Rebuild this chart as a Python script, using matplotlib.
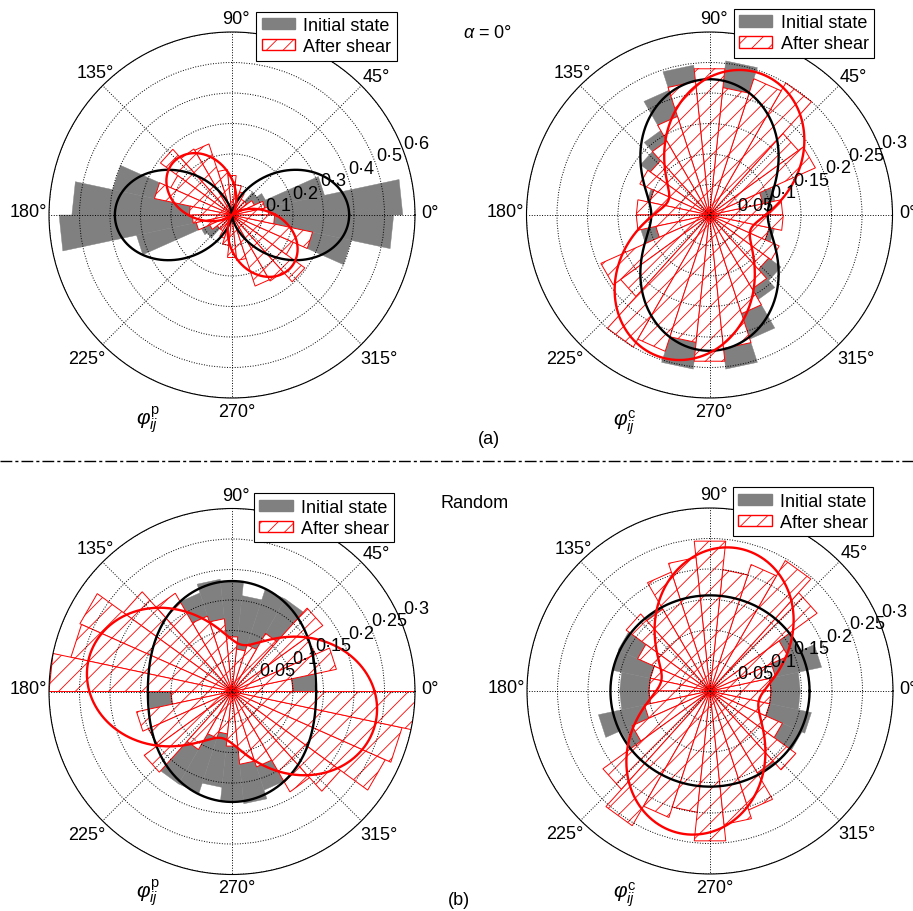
import numpy as np
import matplotlib
matplotlib.use("Agg")
import matplotlib.pyplot as plt
from matplotlib.lines import Line2D
from matplotlib.patches import Patch

plt.rcParams["font.family"] = ["Liberation Sans", "DejaVu Sans"]
plt.rcParams["mathtext.fontset"] = "custom"
plt.rcParams["mathtext.rm"] = "Liberation Sans"
plt.rcParams["mathtext.it"] = "Liberation Sans:italic"
plt.rcParams["hatch.linewidth"] = 0.6

# 30 bins of 12 degrees, starting at 0 deg
BIN_DEG = 12

# (a) alpha = 0, particle orientation phi_ij^p
init_p_a = [0.56, 0.31, 0.12, 0.10, 0.05, 0.03, 0.02, 0.02, 0.02, 0.03, 0.05, 0.08, 0.12, 0.40, 0.525,
            0.567, 0.32, 0.11, 0.10, 0.05, 0.03, 0.02, 0.02, 0.02, 0.03, 0.05, 0.08, 0.12, 0.40, 0.53]
shear_p_a = [0.12, 0.11, 0.08, 0.06, 0.06, 0.08, 0.10, 0.13, 0.15, 0.245, 0.25, 0.29, 0.22, 0.26, 0.14,
             0.13, 0.12, 0.08, 0.06, 0.06, 0.08, 0.10, 0.14, 0.15, 0.245, 0.25, 0.295, 0.22, 0.27, 0.14]
# (a) alpha = 0, contact normals phi_ij^c
init_c_a = [0.115, 0.11, 0.12, 0.15, 0.17, 0.20, 0.254, 0.21, 0.247, 0.215, 0.16, 0.14, 0.10, 0.105, 0.115,
            0.12, 0.115, 0.12, 0.15, 0.17, 0.20, 0.254, 0.21, 0.254, 0.214, 0.16, 0.145, 0.10, 0.109, 0.115]
shear_c_a = [0.12, 0.09, 0.19, 0.18, 0.25, 0.235, 0.21, 0.241, 0.22, 0.17, 0.14, 0.12, 0.125, 0.10, 0.12,
             0.12, 0.09, 0.195, 0.18, 0.25, 0.235, 0.21, 0.241, 0.22, 0.17, 0.14, 0.12, 0.125, 0.10, 0.121]
# (b) random, particle orientation
init_p_b = [0.137, 0.15, 0.15, 0.16, 0.175, 0.175, 0.158, 0.182, 0.185, 0.17, 0.17, 0.176, 0.16, 0.15, 0.14,
            0.137, 0.15, 0.15, 0.16, 0.175, 0.175, 0.158, 0.18, 0.185, 0.17, 0.17, 0.185, 0.16, 0.15, 0.14]
shear_p_b = [0.10, 0.175, 0.15, 0.184, 0.11, 0.08, 0.07, 0.09, 0.12, 0.13, 0.186, 0.22, 0.273, 0.27, 0.30,
             0.10, 0.16, 0.15, 0.178, 0.11, 0.08, 0.07, 0.09, 0.12, 0.13, 0.19, 0.22, 0.275, 0.285, 0.306]
# (b) random, contact normals
init_c_b = [0.148, 0.187, 0.16, 0.155, 0.15, 0.155, 0.155, 0.155, 0.155, 0.155, 0.16, 0.16, 0.165, 0.164, 0.148,
            0.148, 0.187, 0.16, 0.155, 0.15, 0.155, 0.155, 0.155, 0.155, 0.155, 0.16, 0.16, 0.165, 0.17, 0.148]
shear_c_b = [0.10, 0.11, 0.14, 0.217, 0.247, 0.218, 0.20, 0.247, 0.22, 0.205, 0.155, 0.17, 0.13, 0.10, 0.10,
             0.10, 0.11, 0.14, 0.217, 0.255, 0.218, 0.20, 0.247, 0.22, 0.205, 0.155, 0.174, 0.13, 0.10, 0.10]

# fitted curves: r = c * (1 + a * cos(2 (theta - theta0)))   -> (c, a, theta0 in deg)
fit_init_p_a = (0.193, 0.99, 0)
fit_shear_p_a = (0.13, 0.99, 138)
fit_init_c_a = (0.159, 0.40, 90)
fit_shear_c_a = (0.159, 0.55, 70)
fit_init_p_b = (0.1595, 0.135, 90)
fit_shear_p_b = (0.1595, 0.51, 168)
fit_init_c_b = (0.16, 0.02, 0)
fit_shear_c_b = (0.16, 0.49, 78)

ticks_a_p = [0.1, 0.2, 0.3, 0.4, 0.5, 0.6]
tick_labels_a_p = ["0·1", "0·2", "0·3", "0·4", "0·5", "0·6"]
ticks_c = [0.05, 0.1, 0.15, 0.2, 0.25, 0.3]
tick_labels_c = ["0·05", "0·1", "0·15", "0·2", "0·25", "0·3"]

theta_labels = ["0°", "45°", "90°", "135°", "180°", "225°", "270°", "315°"]

GRAY = "#808080"
RED = "#ff0000"
W, H = 913, 912
R = 183.0
FS = 13

# pixel offsets of angle labels from the plot centre
theta_label_px = [(198, 2.5), (144, 138), (4, 196), (-137, 142.7),
                  (-204, 3), (-144.8, -143), (4.7, -196.5), (147, -143)]


def rose(ax, values, **kw):
    step = np.deg2rad(BIN_DEG)
    for i, v in enumerate(values):
        t1, t2 = i * step, (i + 1) * step
        ax.fill([t1, t1, t2], [0, v, v], **kw)


def fit_curve(ax, fit, color):
    c, a, t0 = fit
    th = np.linspace(0, 2 * np.pi, 721)
    r = c * (1 + a * np.cos(2 * (th - np.deg2rad(t0))))
    ax.plot(th, r, color=color, lw=1.7, zorder=4)


def panel(fig, cx, cy, rmax, ticks, labels, init, shear, fit_i, fit_s,
          legend_xy, phi_xy, phi_text, rlab_y0):
    ax = fig.add_axes([(cx - R) / W, (H - cy - R) / H, 2 * R / W, 2 * R / H],
                      projection="polar")
    ax.set_ylim(0, rmax)
    ax.set_yticks(ticks)
    ax.set_yticklabels([])
    ax.set_xticks(np.deg2rad(np.arange(0, 360, 45)))
    ax.set_xticklabels([])
    ax.set_axisbelow(False)
    ax.grid(True, color="black", linestyle=":", linewidth=0.7)
    ax.spines["polar"].set_linewidth(0.8)
    ax.tick_params(length=0)

    rose(ax, init, facecolor=GRAY, edgecolor=GRAY, linewidth=0.3, zorder=1)
    rose(ax, shear, facecolor="white", edgecolor=RED, hatch="//",
         linewidth=0.7, zorder=1.5)
    fit_curve(ax, fit_i, "black")
    fit_curve(ax, fit_s, RED)

    for txt, (dx, dy) in zip(theta_labels, theta_label_px):
        ax.text(0.5 + dx / (2 * R), 0.5 + dy / (2 * R), txt, transform=ax.transAxes,
                ha="center", va="center", fontsize=FS)
    for v, txt in zip(ticks, labels):
        rp = v / rmax * R
        ax.text(0.5 + (18 + 0.91 * rp) / (2 * R), 0.5 + (rlab_y0 + 0.41 * rp) / (2 * R),
                txt, transform=ax.transAxes, ha="center", va="center",
                fontsize=FS, zorder=6)

    handles = [Patch(facecolor=GRAY, edgecolor=GRAY),
               Patch(facecolor="white", edgecolor=RED, hatch="//")]
    leg = ax.legend(handles, ["Initial state", "After shear"], loc="upper right",
                    bbox_to_anchor=(legend_xy[0] / W, 1 - legend_xy[1] / H),
                    bbox_transform=fig.transFigure, fontsize=FS, fancybox=False,
                    framealpha=1, edgecolor="black", borderpad=0.3,
                    handlelength=1.85, handleheight=0.6, handletextpad=0.45,
                    labelspacing=0.22, borderaxespad=0)
    leg.get_frame().set_linewidth(0.8)
    fig.text(phi_xy[0] / W, 1 - phi_xy[1] / H, phi_text, ha="center", va="center",
             fontsize=15)
    return ax


fig = plt.figure(figsize=(W / 100, H / 100), dpi=100)

panel(fig, 232, 216, 0.6, ticks_a_p, tick_labels_a_p, init_p_a, shear_p_a,
      fit_init_p_a, fit_shear_p_a, (396.7, 12.7), (148, 420),
      r"$\varphi^{\mathrm{p}}_{ij}$", -3.4)
panel(fig, 709.5, 216, 0.3, ticks_c, tick_labels_c, init_c_a, shear_c_a,
      fit_init_c_a, fit_shear_c_a, (874, 10), (625, 423),
      r"$\varphi^{\mathrm{c}}_{ij}$", -2.8)
panel(fig, 232, 692.5, 0.3, ticks_c, tick_labels_c, init_p_b, shear_p_b,
      fit_init_p_b, fit_shear_p_b, (394.3, 494.3), (148, 893),
      r"$\varphi^{\mathrm{p}}_{ij}$", 8.2)
panel(fig, 710, 692, 0.3, ticks_c, tick_labels_c, init_c_b, shear_c_b,
      fit_init_c_b, fit_shear_c_b, (873.3, 488.3), (625, 895),
      r"$\varphi^{\mathrm{c}}_{ij}$", 4.5)

fig.text(487.5 / W, 1 - 34 / H, r"$\alpha$ = 0°", ha="center", va="center", fontsize=FS)
fig.text(488.5 / W, 1 - 439.5 / H, "(a)", ha="center", va="center", fontsize=FS)
fig.text(475 / W, 1 - 503.5 / H, "Random", ha="center", va="center", fontsize=FS)
fig.text(459 / W, 1 - 901 / H, "(b)", ha="center", va="center", fontsize=FS)

sep = Line2D([0, 1], [1 - 461.7 / H] * 2, transform=fig.transFigure, color="black",
             linewidth=1.0, linestyle=(0, (8.5, 2.2, 2.2, 2.2)))
fig.add_artist(sep)

fig.savefig("out.png", dpi=100)
